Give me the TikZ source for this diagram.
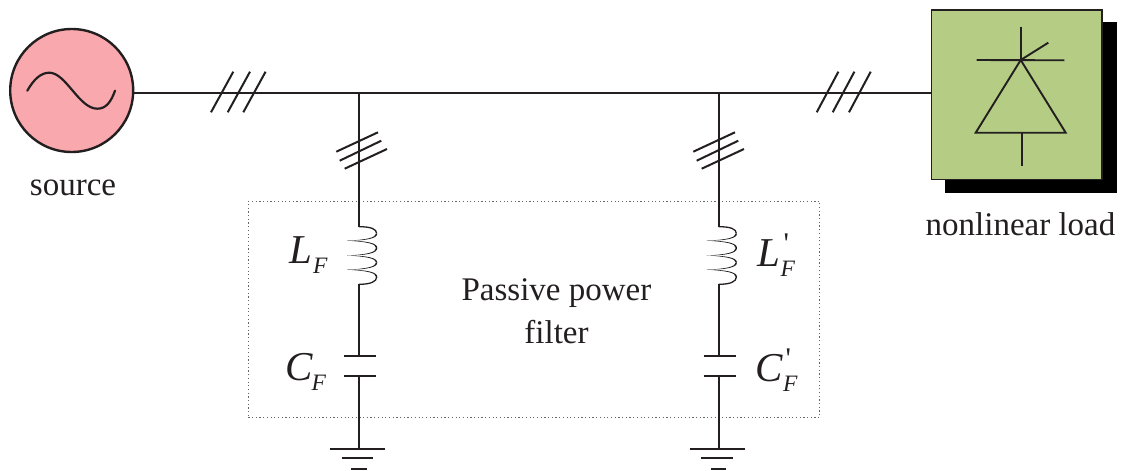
\documentclass[tikz,border=0pt]{standalone}
\usepackage{fontspec}
\setmainfont{Liberation Serif}
\newfontfamily\primefont{Liberation Serif}
\definecolor{srcfill}{HTML}{F9A9AE}
\definecolor{loadfill}{HTML}{B5CC84}
\definecolor{ink}{HTML}{231F20}
\newcommand{\txtsize}{\fontsize{33}{39}\selectfont}
\newcommand{\symL}[1]{{\fontsize{41}{41}\selectfont\itshape #1}}
\newcommand{\symS}[1]{{\fontsize{23.5}{24}\selectfont\itshape #1}}
\newcommand{\primemark}{{\primefont\fontsize{30}{30}\selectfont\char"27}}
\newcommand{\coiltip}[3]{\fill[ink] (18.3,#1) .. controls (18.3,#2+#3*2.2) and (8,#2+#3*0.1) .. (-12,#2) .. controls (8,#2+#3*1) and (17,#2+#3*3.1) .. (17,#1) -- cycle;}
\tikzset{
  x=1pt,y=-1pt,
  wire/.style={draw=ink,line width=1.9pt},
  slash/.style={draw=ink,line width=2pt},
  lbl/.style={inner sep=0pt,outer sep=0pt,text=ink,font=\txtsize,align=center},
  sym/.style={inner sep=0pt,outer sep=0pt,text=ink,anchor=base west},
  dotbox/.style={draw=black!60,line width=1.2pt,dash pattern=on 1.2pt off 2.5pt},
}
\begin{document}
\begin{tikzpicture}
\useasboundingbox (0,0) rectangle (1127,471);
% filter box
\node[dotbox,inner sep=0pt,minimum width=571.5pt,minimum height=216pt,anchor=north west] (filterbox) at (247.7,200.7) {};
% source
\node[circle,draw=ink,fill=srcfill,line width=2.4pt,minimum size=123pt,inner sep=0pt] (src) at (71.7,90.5) {};
\draw[draw=ink,line width=2.2pt,line cap=round] (27.3,90.7) .. controls (34,79) and (41,72.7) .. (49.3,72.7) .. controls (66,72.7) and (79,108.7) .. (97.3,108.7) .. controls (106,108.7) and (111,102) .. (115,90.7);
\node[lbl,anchor=base] (srclabel) at (73,195) {source};
% load
\node[draw=none,fill=black,minimum width=171.7pt,minimum height=171pt,inner sep=0pt,anchor=north west] (shadow) at (945,21.7) {};
\node[draw=ink,fill=loadfill,line width=1.5pt,minimum width=170.5pt,minimum height=169.5pt,inner sep=0pt,anchor=north west] (load) at (930.7,9) {};
\coordinate (apex) at (1020.7,60);
\draw[wire,line join=miter] (apex) -- (1065.7,132.7) -- (975.7,132.7) -- cycle;
\draw[wire] (1020.7,26.7) -- (apex);
\draw[wire] (976.7,60) -- (1064.3,60.3);
\draw[wire] (apex) -- (1048.3,42.7);
\draw[wire] (1022.3,132.7) -- (1022.3,165.7);
\node[lbl,anchor=base] (loadlabel) at (1020.5,235) {nonlinear load};
% bus
\coordinate (j1) at (359,93);
\coordinate (j2) at (718.7,93);
\draw[wire] (src.east |- j1) -- (j1) -- (j2) -- (load.west |- j1);
% three-phase ticks on the bus
\foreach \a in {211,227.7,243.3}{\draw[slash] (\a,112.3) -- (\a+22.3,71.7);}
\foreach \a in {816.7,832.7,849}{\draw[slash] (\a,112.3) -- (\a+21.7,71.7);}
% branches
\foreach \bx in {359,718.7}{
  \begin{scope}[xshift=\bx pt]
    \draw[wire] (0,93) -- (0,226.7);
    \draw[draw=ink,line width=1.3pt] (0,226.7) .. controls (12,226.7) and (17.65,229) .. (17.65,233.5);
    \coiltip{233.5}{240.7}{-1}
    \coiltip{248}{240.7}{1}
    \coiltip{248}{255.5}{-1}
    \coiltip{262.5}{255.5}{1}
    \coiltip{262.5}{269.7}{-1}
    \coiltip{277}{269.7}{1}
    \draw[draw=ink,line width=1.3pt] (17.65,277) .. controls (17.65,281.5) and (12,284.3) .. (0,284.3);
    \draw[wire] (0,284.3) -- (0,355.7);
    \draw[wire] (-15,355.7) -- (17,355.7);
    \draw[wire] (-15,376) -- (17,376);
    \draw[wire] (0,376) -- (0,449);
    \draw[wire] (-29,449) -- (26,449);
    \draw[wire] (-17.3,458.3) -- (14.3,458.3);
    \draw[wire] (-8,469) -- (7.7,469);
  \end{scope}
}
% three-phase ticks on the branches
\foreach \dx in {0,-357}{
  \begin{scope}[xshift=\dx pt]
    \draw[slash] (693.3,151.7) -- (735,132.3);
    \draw[slash] (696.7,160.7) -- (738.3,140.7);
    \draw[slash] (701.7,168.7) -- (744,149);
  \end{scope}
}
% labels
\node[sym] (LF) at (289,263.5) {\symL{L}};
\node[sym] (LFs) at (313,273) {\symS{F}};
\node[sym] (CF) at (285,380) {\symL{C}};
\node[sym] (CFs) at (311.5,390) {\symS{F}};
\node[sym] (Lp) at (757,266.7) {\symL{L}};
\node[sym] (Lps) at (780.5,276.7) {\symS{F}};
\node[sym] (Lpm) at (783.5,253) {\primemark};
\node[sym] (Cp) at (755.5,381.5) {\symL{C}};
\node[sym] (Cps) at (783.2,391.7) {\symS{F}};
\node[sym] (Cpm) at (785.5,368) {\primemark};
\node[lbl,anchor=base] (pf1) at (556.5,300.5) {Passive power};
\node[lbl,anchor=base] (pf2) at (556.5,343.5) {filter};
\end{tikzpicture}
\end{document}
